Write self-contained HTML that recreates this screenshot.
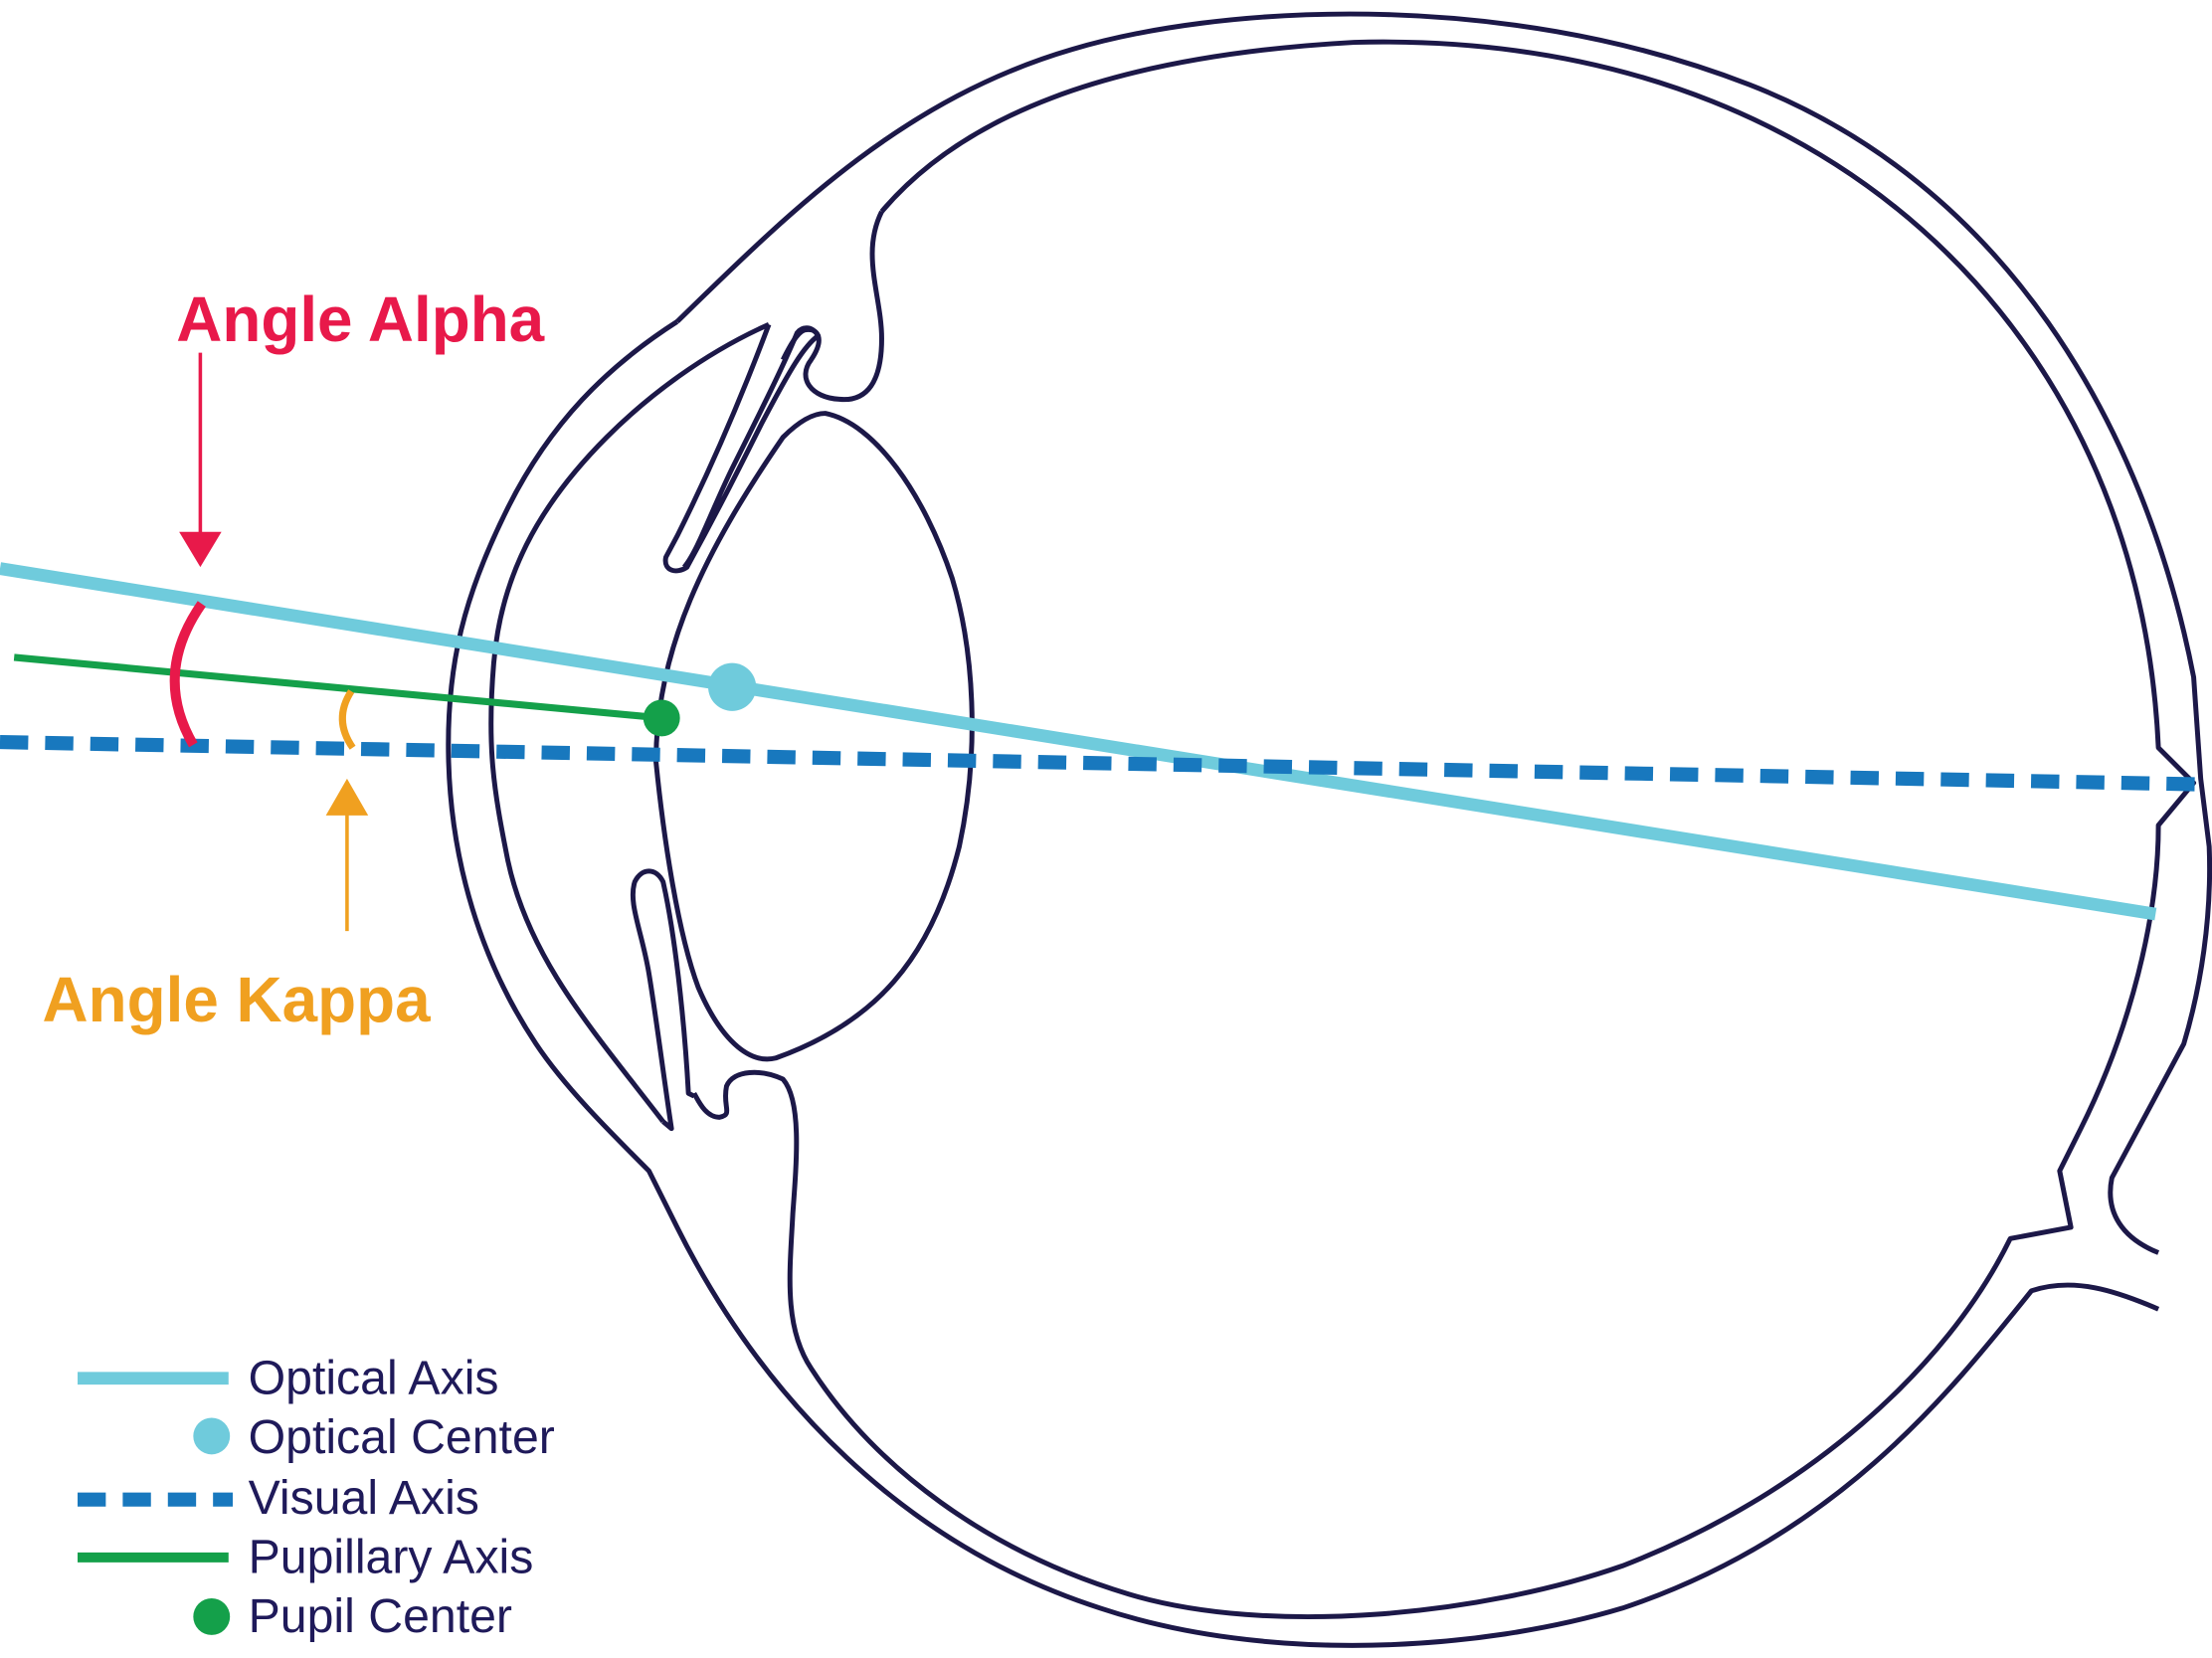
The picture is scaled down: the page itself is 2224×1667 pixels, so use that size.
<!DOCTYPE html>
<html><head><meta charset="utf-8"><style>
html,body{margin:0;padding:0;background:#fff;width:2224px;height:1667px;overflow:hidden}
svg{display:block}
text{font-family:"Liberation Sans",sans-serif}
</style></head><body>
<svg width="2224" height="1667" viewBox="0 0 1568 1175.3" preserveAspectRatio="none" xmlns="http://www.w3.org/2000/svg">
<g fill="none" stroke="#1c1848" stroke-width="3.5" stroke-linejoin="round">
<path d="M480,228 C560,150 640,70 760,35 C860,5 1060,-10 1240,60 C1420,130 1520,300 1555,480 L1560,552 L1566,600 C1568,650 1560,700 1548,740 L1497,835 C1492,860 1505,878 1530,888"/>
<path d="M1530,928 C1500,915 1470,905 1440,915 C1380,990 1300,1090 1150,1140 C1050,1170 900,1180 780,1140 C640,1095 540,990 480,870 L460,830 C430,800 400,770 380,740 C340,680 320,610 318,540 C316,470 330,420 360,360 C390,300 430,260 480,228"/>
<path d="M625,150 C680,85 780,40 960,30 C1150,25 1300,90 1400,200 C1490,300 1525,420 1530,530 L1555,555 L1530,585 C1530,650 1510,730 1475,800 L1460,830 L1468,870 L1425,878 C1380,970 1280,1060 1150,1110 C1050,1145 900,1160 800,1130 C700,1100 620,1040 575,970 C555,940 560,900 562,860 C565,820 568,780 555,765 C540,758 520,758 515,770 C512,785 520,790 510,792 C500,792 495,780 492,775"/>
<path d="M625,150 C610,180 625,210 625,240 C625,270 615,285 595,283 C575,282 565,268 575,255 C585,240 580,232 570,234 C565,236 560,245 555,255"/>
<path d="M545,230 C500,250 460,280 430,310 C380,360 355,410 350,470 C345,530 350,560 360,610 C375,680 420,730 470,795"/>
<path d="M470,795 L476,800 C470,760 465,720 460,690 C455,660 445,640 450,625 C455,615 465,615 470,625 C478,660 485,720 488,775 L492,777"/>
<path d="M545,230 C530,270 510,320 480,380 L472,395 C470,405 480,407 487,402 C510,360 525,330 540,300 C560,262 570,245 580,238 C575,230 568,232 565,236 C555,260 540,290 520,330 C505,360 495,390 485,402"/>
<path d="M585,293 C620,300 655,350 675,410 C690,460 695,530 680,600 C660,680 620,725 550,750 C530,755 510,735 495,700 C480,660 470,590 465,540 C465,460 500,390 555,310 C565,300 575,293 585,293 Z"/>
</g>
<line x1="0" y1="403" x2="1528" y2="648" stroke="#6fcbdc" stroke-width="9"/>
<line x1="0" y1="526" x2="1560" y2="556" stroke="#1878be" stroke-width="10" stroke-dasharray="20,12"/>
<line x1="10" y1="466" x2="469" y2="509" stroke="#14a04a" stroke-width="5"/>
<circle cx="519" cy="487" r="17" fill="#6fcbdc"/>
<circle cx="469" cy="509" r="13" fill="#14a04a"/>
<path d="M143,428 Q108,478 137,528" fill="none" stroke="#e8194a" stroke-width="7"/>
<path d="M249,490 Q236,510 250,530" fill="none" stroke="#f0a020" stroke-width="5"/>
<line x1="142" y1="250" x2="142" y2="380" stroke="#e8194a" stroke-width="2.5"/>
<polygon points="127,377 157,377 142,402" fill="#e8194a"/>
<line x1="246" y1="660" x2="246" y2="575" stroke="#f0a020" stroke-width="2.5"/>
<polygon points="231,578 261,578 246,552" fill="#f0a020"/>
<text x="125" y="242" font-size="45" font-weight="bold" fill="#e8194a">Angle Alpha</text>
<text x="30" y="724" font-size="45" font-weight="bold" fill="#f0a020">Angle Kappa</text>
<line x1="55" y1="977" x2="162" y2="977" stroke="#6fcbdc" stroke-width="9"/>
<circle cx="150" cy="1018" r="13" fill="#6fcbdc"/>
<line x1="55" y1="1063" x2="165" y2="1063" stroke="#1878be" stroke-width="10" stroke-dasharray="20,12"/>
<line x1="55" y1="1104" x2="162" y2="1104" stroke="#14a04a" stroke-width="7"/>
<circle cx="150" cy="1146" r="13" fill="#14a04a"/>
<g font-size="34" fill="#1f1a5a">
<text x="176" y="988">Optical Axis</text>
<text x="176" y="1030">Optical Center</text>
<text x="176" y="1073">Visual Axis</text>
<text x="176" y="1115">Pupillary Axis</text>
<text x="176" y="1157">Pupil Center</text>
</g>
</svg>
</body></html>
